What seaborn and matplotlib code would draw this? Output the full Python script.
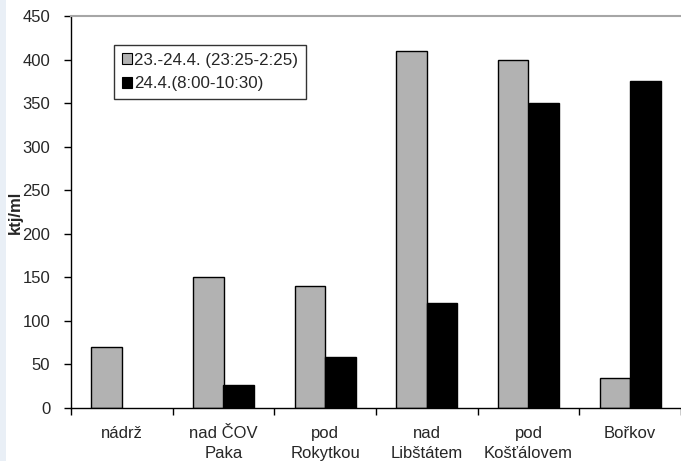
import matplotlib
matplotlib.use("Agg")
import matplotlib.pyplot as plt
import seaborn as sns
import pandas as pd
from matplotlib.patches import Rectangle

categories = ["nádrž", "nad ČOV\nPaka", "pod\nRokytkou", "nad\nLibštátem", "pod\nKošťálovem", "Bořkov"]
series_names = ["23.-24.4. (23:25-2:25)", "24.4.(8:00-10:30)"]
values_night = [70, 150, 140, 410, 400, 35]
values_morning = [0, 26, 59, 121, 350, 375]
y_ticks = [0, 50, 100, 150, 200, 250, 300, 350, 400, 450]
y_label = "ktj/ml"

rows = []
for c, v in zip(categories, values_night):
    rows.append({"cat": c, "series": series_names[0], "val": v})
for c, v in zip(categories, values_morning):
    rows.append({"cat": c, "series": series_names[1], "val": v})
df = pd.DataFrame(rows)

sns.set_style("white")
plt.rcParams["font.family"] = ["Liberation Sans", "DejaVu Sans"]

fig = plt.figure(figsize=(6.81, 4.61), dpi=100)
fig.patches.append(Rectangle((0, 0), 6 / 681, 1, transform=fig.transFigure,
                             facecolor="#e9eff6", edgecolor="none", zorder=0))
ax = fig.add_axes([71 / 681, 1 - 408 / 461, 610 / 681, 392 / 461])

sns.barplot(data=df, x="cat", y="val", hue="series", order=categories,
            hue_order=series_names, palette=["#b2b2b2", "#000000"],
            width=0.6, edgecolor="black", linewidth=1.0, saturation=1,
            ax=ax, legend=True)

for p in ax.patches:
    if p.get_height() == 0:
        p.set_linewidth(0)

ax.set_xlim(-0.5, 5.5)
ax.set_ylim(0, 450)
ax.set_yticks(y_ticks)
ax.set_yticklabels([str(t) for t in y_ticks], fontsize=12)
ax.set_xticks(range(len(categories)))
ax.set_xticklabels(categories, fontsize=12, linespacing=1.4)
ax.tick_params(axis="x", length=0, pad=13)
ax.set_xticks([i - 0.5 for i in range(len(categories) + 1)], minor=True)
ax.tick_params(axis="x", which="minor", length=5, width=1, color="black", direction="out", bottom=True)
ax.tick_params(axis="y", length=5, width=1, color="black", direction="out", left=True, pad=10)
ax.set_xlabel("")
ax.set_ylabel(y_label, fontsize=12, fontweight="bold")
ax.yaxis.set_label_coords((23 - 71) / 610, 0.5)

for s in ["left", "bottom"]:
    ax.spines[s].set_color("black")
    ax.spines[s].set_linewidth(1)
ax.spines["top"].set_color("#a6a6a6")
ax.spines["top"].set_linewidth(1.5)
ax.spines["right"].set_visible(False)

leg = ax.legend(loc="upper left", bbox_to_anchor=(43 / 610, (408 - 45) / 392),
                borderaxespad=0, fancybox=False, frameon=True, fontsize=12.2,
                handlelength=0.6, handleheight=0.6, handletextpad=0.15,
                labelspacing=0.5, borderpad=0.45)
leg.get_frame().set_edgecolor("black")
leg.get_frame().set_linewidth(1)
for h in leg.legend_handles:
    h.set_edgecolor("black")
    h.set_linewidth(0.8)

fig.savefig("out.png", dpi=100)
